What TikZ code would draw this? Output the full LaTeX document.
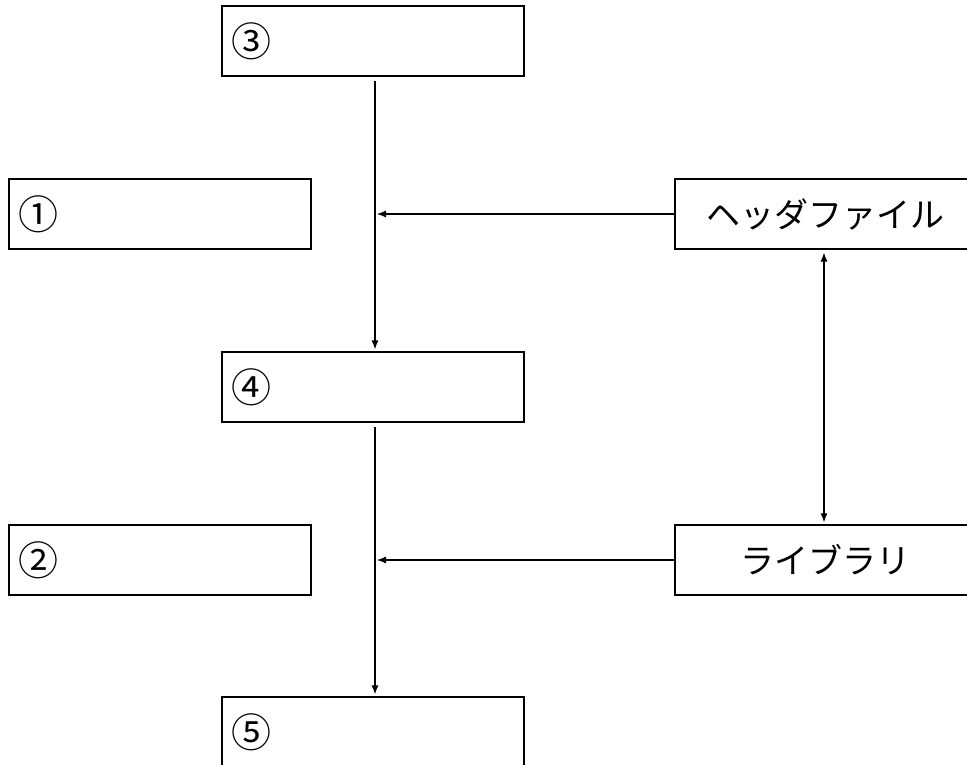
\documentclass[tikz,border=0pt]{standalone}
\usepackage{fontspec}
\newfontfamily\jp{Noto Sans CJK JP}
\usetikzlibrary{arrows.meta}
\tikzset{
  box/.style={draw, line width=1.3pt, minimum width=302pt, minimum height=70pt, inner xsep=9pt, inner ysep=0pt, text width=284pt},
  lbox/.style={box, align=left, font=\jp\fontsize{40}{44}\selectfont},
  cbox/.style={box, align=center, font=\jp\fontsize{34}{38}\selectfont},
  arr/.style={line width=1.1pt, -{Latex[length=9pt,width=7pt]}},
  darr/.style={line width=1.1pt, {Latex[length=9pt,width=7pt]}-{Latex[length=9pt,width=7pt]}}
}
\begin{document}
\begin{tikzpicture}[x=1pt,y=-1pt]
\useasboundingbox (0,0) rectangle (967,765);
\node[lbox] (n3) at (373,41) {③};
\node[lbox] (n1) at (160,214) {①};
\node[cbox, minimum width=300pt, text width=282pt] (hdr) at (825,214) {ヘッダファイル};
\node[lbox] (n4) at (373,387) {④};
\node[lbox] (n2) at (160,560) {②};
\node[cbox, minimum width=300pt, text width=282pt] (lib) at (825,560) {ライブラリ};
\node[lbox] (n5) at (373,732) {⑤};
\coordinate (c3) at ([xshift=2pt,yshift=-4pt]n3.south);
\coordinate (c4t) at ([xshift=2pt,yshift=2pt]n4.north);
\coordinate (c4b) at ([xshift=2pt,yshift=-4pt]n4.south);
\coordinate (c5t) at ([xshift=2pt,yshift=2pt]n5.north);
\draw[arr] (c3) -- (c4t);
\draw[arr] (c4b) -- (c5t);
\draw[arr] (hdr.west) -- ([xshift=2pt]hdr.west -| c3);
\draw[arr] (lib.west) -- ([xshift=2pt]lib.west -| c4b);
\draw[darr] ([xshift=-1pt,yshift=-3pt]hdr.south) -- ([xshift=-1pt,yshift=2pt]lib.north);
\end{tikzpicture}
\end{document}
